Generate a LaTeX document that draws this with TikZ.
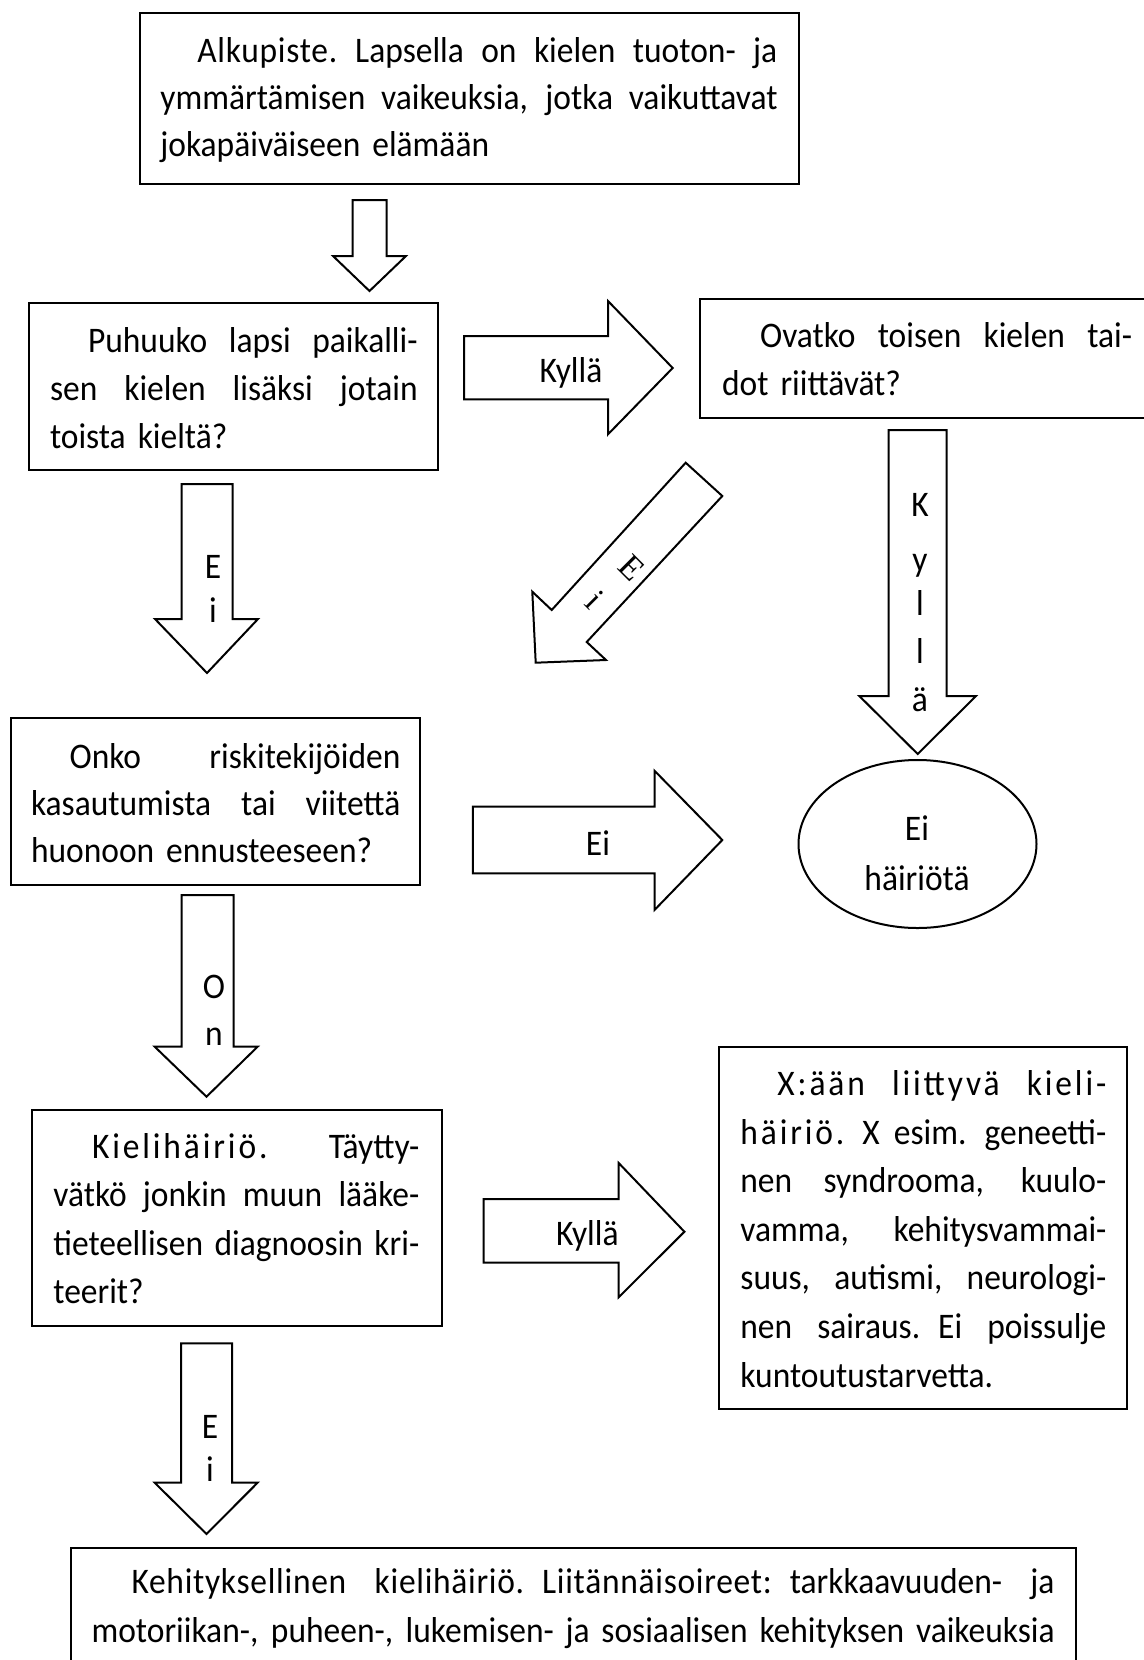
\documentclass[tikz,border=0pt]{standalone}
\usepackage{fontspec}
\setmainfont{Carlito}[FakeStretch=0.93]
\newfontfamily\wf{Carlito}[FakeStretch=0.93,LetterSpace=2]
\newfontfamily\wg{Carlito}[FakeStretch=0.93,LetterSpace=8]
\newfontfamily\serf{Liberation Serif}
\usetikzlibrary{shapes.geometric}
\newcommand\tw{100pt}
\newcommand\jl[1]{\makebox[\tw][s]{\spaceskip=.25em plus 1fil minus .08em\relax #1}\\}
\newcommand\fs{\rule{0pt}{16pt}}
\begin{document}
\begin{tikzpicture}[x=0.5pt,y=-0.5pt,
  box/.style={draw,line width=1pt,inner sep=0pt},
  blk/.style={draw,line width=1pt,fill=white,line join=miter},
  txt/.style={anchor=north west,inner sep=0pt,align=left},
  lab/.style={anchor=base,inner sep=0pt,font=\fontsize{18}{22}\selectfont}]
\useasboundingbox[fill=white] (0,0) rectangle (1144,1660);

% boxes
\node[box,minimum width=329.5pt,minimum height=85.5pt] (start) at (469.5,98.5) {};
\node[box,minimum width=204.4pt,minimum height=83.35pt] (q1) at (233.4,386.65) {};
\node[box,minimum width=226.3pt,minimum height=59.2pt] (q2) at (926.7,358.5) {};
\node[box,minimum width=204.25pt,minimum height=83.35pt] (q3) at (215.25,801.65) {};
\node[box,minimum width=204.7pt,minimum height=107.85pt] (q4) at (237,1218.15) {};
\node[box,minimum width=204pt,minimum height=181pt] (xd) at (923.3,1228.3) {};
\node[box,minimum width=502.7pt,minimum height=60.85pt] (dld) at (573.5,1609.15) {};
\node[draw,line width=1pt,ellipse,minimum width=119pt,minimum height=84pt,inner sep=0pt] (none) at (917.5,844) {};

% box texts
\node[txt,text width=308.5pt,font=\fontsize{18}{23.5}\selectfont] (tstart) at (160,30)
 {\renewcommand\tw{308.5pt}\jl{\fs\hspace*{18.5pt}{\wf Alkupiste.} Lapsella on kielen tuoton- ja}\jl{ymmärtämisen vaikeuksia, jotka vaikuttavat}jokapäiväiseen elämään};
\node[txt,text width=183.85pt,font=\fontsize{18}{24}\selectfont] (tq1) at (49.6,319.7)
 {\renewcommand\tw{183.85pt}\jl{\fs\hspace*{19pt}Puhuuko lapsi paikalli-}\jl{sen kielen lisäksi jotain}toista kieltä?};
\node[txt,text width=205pt,font=\fontsize{18}{24}\selectfont] (tq2) at (721.7,315)
 {\renewcommand\tw{205pt}\jl{\fs\hspace*{19pt}Ovatko toisen kielen tai-}dot riittävät?};
\node[txt,text width=184.7pt,font=\fontsize{18}{23.5}\selectfont] (tq3) at (30.6,736.3)
 {\renewcommand\tw{184.7pt}\jl{\fs\hspace*{19.3pt}Onko riskitekijöiden}\jl{kasautumista tai viitettä}huonoon ennusteeseen?};
\node[txt,text width=183pt,font=\fontsize{18}{24.2}\selectfont] (tq4) at (53,1126)
 {\renewcommand\tw{183pt}\jl{\fs\hspace*{19.3pt}{\wg Kielihäiriö.}\hfill Täytty-}\jl{vätkö jonkin muun lääke-}\jl{tieteellisen diagnoosin kri-}teerit?};
\node[txt,text width=183pt,font=\fontsize{18}{24.3}\selectfont] (txd) at (740,1063)
 {\renewcommand\tw{183pt}\jl{\fs\hspace*{18.5pt}{\wg X:ään liittyvä kieli-}}\jl{{\wg häiriö.} X esim. geneetti-}\jl{nen syndrooma, kuulo-}\jl{vamma, kehitysvammai-}\jl{suus, autismi, neurologi-}\jl{nen sairaus. Ei poissulje}kuntoutustarvetta.};
\node[txt,text width=481.55pt,font=\fontsize{18}{24.2}\selectfont] (tdld) at (91.2,1561.3)
 {\renewcommand\tw{481.55pt}\jl{\fs\hspace*{20pt}{\wf Kehityksellinen kielihäiriö. Liitännäisoireet:} tarkkaavuuden- ja}\makebox[\tw][s]{\spaceskip=.25em plus 1fil minus .08em\relax motoriikan-, puheen-, lukemisen- ja sosiaalisen kehityksen vaikeuksia}};

% block arrows
\draw[blk] (352.5,200) -- (352.5,256) -- (333,256) -- (369.5,291) -- (406,256) -- (386.5,256) -- (386.5,200) -- cycle;
\draw[blk] (464,336) -- (608,336) -- (608,301) -- (672.7,368) -- (608,434.3) -- (608,399.3) -- (464,399.3) -- cycle;
\draw[blk] (888.7,430) -- (888.7,696) -- (859.3,696) -- (917.7,754) -- (976,696) -- (946.7,696) -- (946.7,430) -- cycle;
\draw[blk] (685.7,462.7) -- (722.3,496) -- (586.7,642) -- (606,660) -- (535.7,662.7) -- (532.3,591.7) -- (551.7,610) -- cycle;
\draw[blk] (181.5,484) -- (181.5,619) -- (155,619) -- (207,673) -- (258,619) -- (232.5,619) -- (232.5,484) -- cycle;
\draw[blk] (472.8,806.7) -- (654.5,806.7) -- (654.5,770.7) -- (722.3,840) -- (654.5,910) -- (654.5,873.3) -- (472.8,873.3) -- cycle;
\draw[blk] (181.7,895) -- (181.7,1046.7) -- (154.7,1046.7) -- (206.5,1096.7) -- (257.6,1046.7) -- (233.5,1046.7) -- (233.5,895) -- cycle;
\draw[blk] (483.7,1199) -- (618.7,1199) -- (618.7,1163) -- (684.4,1231.7) -- (618.7,1297.3) -- (618.7,1262.7) -- (483.7,1262.7) -- cycle;
\draw[blk] (181,1343.3) -- (181,1482.7) -- (154.7,1482.7) -- (206.5,1534) -- (257.6,1482.7) -- (232,1482.7) -- (232,1343.3) -- cycle;

% arrow labels
\node[lab] (l1) at (571,382.7) {Kyllä};
\node[lab] (l2k) at (920,516.7) {K};
\node[lab] (l2y) at (920,571.7) {y};
\node[lab] (l2l) at (920,615) {l};
\node[lab] (l2m) at (920,663) {l};
\node[lab] (l2a) at (920,711.7) {ä};
\node[inner sep=0pt,rotate=-45,font=\serf\fontsize{17}{20}\selectfont] (l3e) at (631.7,568.3) {E};
\node[inner sep=0pt,rotate=-45,font=\serf\fontsize{17}{20}\selectfont] (l3i) at (595,600) {i};
\node[lab] (l4e) at (213,578) {E};
\node[lab] (l4i) at (213,622) {i};
\node[lab] (l5) at (598,855) {Ei};
\node[lab] (l6e) at (917,840) {Ei};
\node[lab] (l6h) at (917,890) {häiriötä};
\node[lab] (l7o) at (214,998.3) {O};
\node[lab] (l7n) at (214,1045) {n};
\node[lab] (l8) at (587.3,1245) {Kyllä};
\node[lab] (l9e) at (210,1438.3) {E};
\node[lab] (l9i) at (210,1481.7) {i};
\end{tikzpicture}
\end{document}
